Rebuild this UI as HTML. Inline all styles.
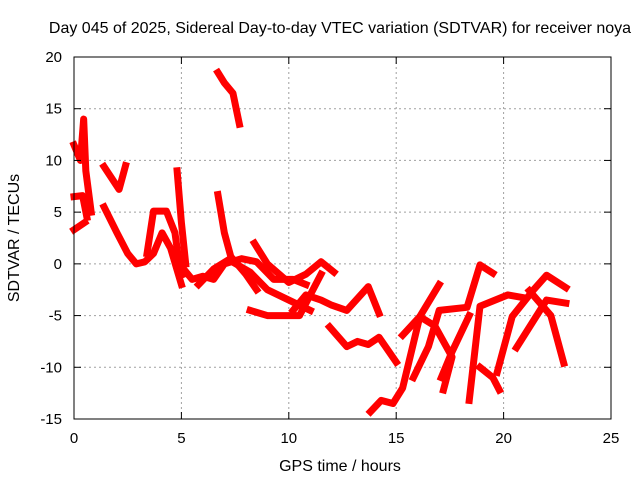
<!DOCTYPE html>
<html><head><meta charset="utf-8"><style>
body{margin:0;background:#fff}
svg{display:block;font-family:"Liberation Sans",sans-serif}
</style></head><body>
<svg id="chart" width="640" height="480" viewBox="0 0 640 480">
<rect width="640" height="480" fill="#fff"/>
<text x="340" y="33" font-size="16" text-anchor="middle">Day 045 of 2025, Sidereal Day-to-day VTEC variation (SDTVAR) for receiver noya</text>
<g id="grid"></g>
<g id="marks"></g>
<rect x="74" y="57" width="537" height="362" fill="none" stroke="#000" stroke-width="1"/>
<g id="ticks"></g>
<text x="340" y="471" font-size="16" text-anchor="middle">GPS time / hours</text>
<text transform="translate(19,238) rotate(-90)" font-size="16" text-anchor="middle">SDTVAR / TECUs</text>
</svg>
<script>
const xTicks=[0,5,10,15,20,25];
const yTicks=[-15,-10,-5,0,5,10,15,20];
const track1=[[0,11.5],[0.3,10],[0.45,14],[0.55,9],[0.8,5]];
const track2=[[0,6.5],[0.4,6.6],[0.6,4.5]];
const track3=[[0,3.3],[0.5,4]];
const track4=[[1.4,9.4],[2.1,7.2],[2.4,9.5]];
const track5=[[1.4,5.5],[2,3],[2.5,1],[2.9,0],[3.3,0.2],[3.7,1],[4.1,3],[4.5,1.5],[5,-2]];
const track6=[[3.4,1],[3.7,5.1],[4.3,5.1],[4.7,3],[4.9,0],[5.1,-1]];
const track7=[[4.8,9],[5,4],[5.2,0]];
const track8=[[6.7,18.5],[7,17.5],[7.4,16.5],[7.7,13.5]];
const track9=[[6.7,6.7],[7,3],[7.3,0.7],[8,-1],[8.5,-2.5]];
const track10=[[5.1,-0.5],[5.5,-1.5],[6,-1.2],[6.5,-1.5],[7,0],[7.8,0.5],[8.5,0.2],[9.3,-1.5],[10.2,-1.5],[10.8,-2]];
const track11=[[5.8,-2],[6.5,-0.5],[7.2,0.4],[8.2,-0.8],[9,-2.5],[10,-3.5],[11,-4.5]];
const track12=[[8.4,2],[9,0],[10,-1.8],[10.8,-1],[11.5,0.2],[12.1,-0.8]];
const track13=[[8.2,-4.5],[9,-5],[10,-5],[10.5,-5],[11,-3],[11.5,-1]];
const track14=[[10.2,-4.5],[10.8,-3],[11.5,-3.5],[12,-4],[12.7,-4.5],[13.7,-2.2],[14.2,-4.8]];
const track15=[[11.9,-6.1],[12.7,-8],[13.2,-7.5],[13.7,-7.8],[14.2,-7.1],[15,-9.5]];
const track16=[[13.8,-14.3],[14.3,-13.2],[14.85,-13.5],[15.3,-12],[16.1,-5.1],[17,-2]];
const track17=[[15.3,-6.9],[16.1,-5.1],[16.8,-6],[17.6,-9],[17.2,-12.2]];
const track18=[[15.8,-11],[16.5,-8],[17,-4.5],[18.3,-4.2],[18.9,-0.1],[19.5,-0.9]];
const track19=[[17.1,-11],[17.6,-8.5],[18.4,-5]];
const track20=[[18.4,-13.2],[18.9,-4.1],[20.2,-3],[21,-3.3]];
const track21=[[18.9,-10],[19.5,-11],[19.8,-12.2]];
const track22=[[19.7,-10.5],[20.4,-5.1],[21.4,-2.5],[22,-1.1],[22.9,-2.3]];
const track23=[[20.6,-8.1],[22,-3.5],[22.9,-3.8]];
const track24=[[21.2,-2.6],[22.2,-5],[22.8,-9.6]];
const tracks=[track1,track2,track3,track4,track5,track6,track7,track8,track9,track10,track11,track12,track13,track14,track15,track16,track17,track18,track19,track20,track21,track22,track23,track24];
const X=v=>74+(v-0)*537/25, Y=v=>57+(20-v)*362/35;
const NS="http://www.w3.org/2000/svg";
const grid=document.getElementById('grid'),ticks=document.getElementById('ticks'),marks=document.getElementById('marks');
function el(t,a,p){const e=document.createElementNS(NS,t);for(const k in a)e.setAttribute(k,a[k]);p.appendChild(e);return e;}
xTicks.forEach(t=>{
 if(t>0&&t<25){const g=el('line',{x1:X(t),x2:X(t),y1:57,y2:419,stroke:'#a0a0a0','stroke-dasharray':'2,3'},grid);
 
 }
 el('line',{x1:X(t),x2:X(t),y1:419,y2:412,stroke:'#000'},ticks);
 el('line',{x1:X(t),x2:X(t),y1:57,y2:64,stroke:'#000'},ticks);
 const tx=el('text',{x:X(t),y:443,'font-size':15,'text-anchor':'middle'},ticks);tx.textContent=t;
 
 
});
yTicks.forEach(t=>{
 if(t>-15&&t<20){const g=el('line',{x1:74,x2:611,y1:Y(t),y2:Y(t),stroke:'#a0a0a0','stroke-dasharray':'2,3'},grid);
 
 }
 el('line',{x1:74,x2:81,y1:Y(t),y2:Y(t),stroke:'#000'},ticks);
 el('line',{x1:604,x2:611,y1:Y(t),y2:Y(t),stroke:'#000'},ticks);
 const tx=el('text',{x:62,y:Y(t)+5,'font-size':15,'text-anchor':'end'},ticks);tx.textContent=t;
 
 
});
tracks.forEach(tr=>{
 const p=el('polyline',{points:tr.map(d=>X(d[0])+','+Y(d[1])).join(' '),fill:'none',stroke:'#ff0000','stroke-width':7,'stroke-linejoin':'round','stroke-linecap':'square'},marks);
 
 
});
</script>
</body></html>
